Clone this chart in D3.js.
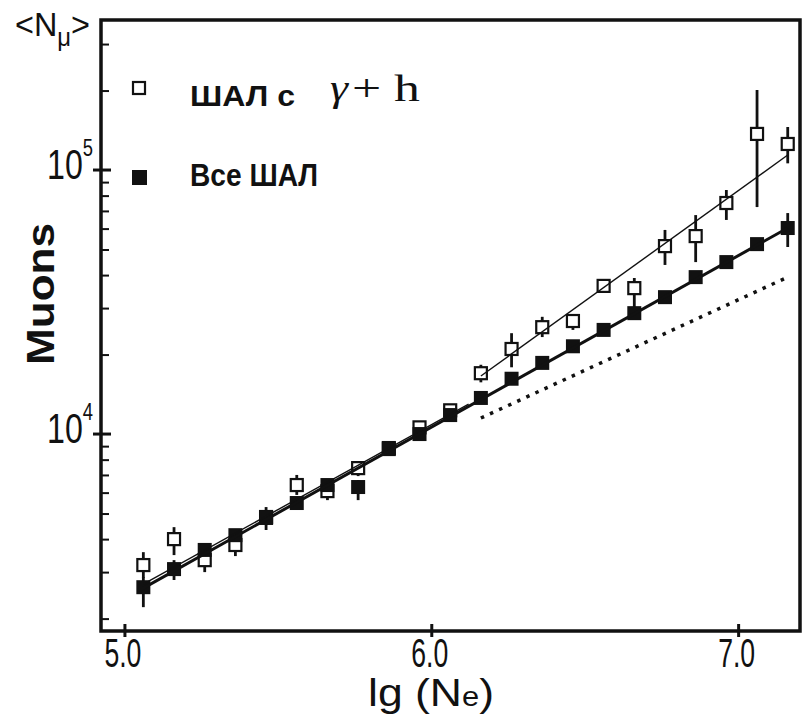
<!DOCTYPE html>
<html>
<head>
<meta charset="utf-8">
<script src="https://cdn.jsdelivr.net/npm/d3@7"></script>
<style>
  body { margin: 0; background: #fff; }
  svg { display: block; }
</style>
</head>
<body>
<svg id="chart" width="807" height="717"></svg>
<script>
// lg(Ne) bin centres
const lgNe = [5.06, 5.16, 5.26, 5.36, 5.46, 5.56, 5.66, 5.76, 5.86, 5.96, 6.06,
              6.16, 6.26, 6.36, 6.46, 6.56, 6.66, 6.76, 6.86, 6.96, 7.06, 7.16]

// all showers (filled squares): <Nmu> and error bar ends
const allMuons = [2630, 3080, 3640, 4140, 4810, 5480, 6410, 6300, 8770, 10000, 11800,
                  13700, 16200, 18600, 21500, 24800, 28700, 33000, 39300, 44800, 52400, 60300]
const allLo = [2210, 2800, 3450, 3950, 4330, 5250, 6150, 5620, 8450, 9650, 11400,
               13200, 15600, 17900, 20700, 23900, 27700, 31800, 37900, 43200, 50500, 51100]
const allHi = [2870, 3330, 3830, 4350, 5290, 5700, 6680, 6700, 9100, 10400, 12200,
               14200, 16800, 19300, 22300, 25700, 29800, 34200, 40800, 46400, 54300, 68700]

// showers with gamma + hadrons (open squares)
const ghMuons = [3190, 4000, 3330, 3800, 4850, 6410, 6080, 7430, 8850, 10600, 12300,
                 17000, 21000, 25400, 26800, 36400, 35700, 51500, 56200, 75000, 137000, 125500]
const ghLo = [2850, 3480, 3000, 3450, 4520, 5880, 5620, 6930, 8500, 10200, 11800,
              15700, 17900, 23300, 24800, 34500, 30000, 43700, 44800, 64700, 72400, 106000]
const ghHi = [3570, 4440, 3540, 4040, 5150, 7000, 6520, 7830, 9200, 11000, 12800,
              18300, 24100, 27800, 28200, 38300, 39000, 59300, 67500, 84000, 201000, 145500]

// fitted lines, end points [lgNe, Nmu]
const allFit = [[5.06, 2610], [7.16, 60300]]
const ghFitLow = [[5.06, 2700], [6.12, 12990]]
const ghFitHigh = [[6.16, 16590], [7.16, 114000]]
const dottedRef = [[6.16, 11500], [7.16, 39300]]

// axis ticks
const xTicks = [5.0, 6.0, 7.0]
const xTickLabels = ['5.0', '6.0', '7.0']
const yMajor = [1e4, 1e5]
const yMajorExp = ['4', '5']
const yMinor = [2000, 3000, 4000, 5000, 6000, 7000, 8000, 9000,
                20000, 30000, 40000, 50000, 60000, 70000, 80000, 90000,
                200000, 300000]

const sans = '"Liberation Sans", Arial, sans-serif'
const serif = '"Liberation Serif", "DejaVu Serif", serif'

const plotLeft = 101, plotTop = 20, plotRight = 800, plotBottom = 631

const svg = d3.select('#chart')

const x = d3.scaleLinear().domain([4.922, 7.2]).range([plotLeft, plotRight])
const y = d3.scaleLog().domain([1795, 370000]).range([plotBottom, plotTop])

// text helper, width forced with textLength (the original font is narrow)
const label = (g, px, py, str, size, len, opts = {}) => g.append('text')
    .attr('x', px).attr('y', py)
    .attr('font-size', size)
    .attr('font-family', opts.family || sans)
    .attr('font-weight', opts.weight || 'normal')
    .attr('font-style', opts.style || 'normal')
    .attr('text-anchor', opts.anchor || 'start')
    .attr('textLength', len)
    .attr('lengthAdjust', 'spacingAndGlyphs')
    .attr('fill', '#111')
    .text(str)

// same, but built from pieces [text, size, dy] so sub/superscripts stay in one text
const richLabel = (g, px, py, parts, len) => {
    const t = g.append('text')
        .attr('x', px).attr('y', py)
        .attr('font-family', sans)
        .attr('textLength', len)
        .attr('lengthAdjust', 'spacingAndGlyphs')
        .attr('fill', '#111')
    parts.forEach(p => t.append('tspan').attr('font-size', p[1]).attr('dy', p[2]).text(p[0]))
    return t
}

// minor ticks on the left axis, pointing inwards
svg.append('g')
    .attr('transform', `translate(${plotLeft},0)`)
    .call(d3.axisRight(y).tickValues(yMinor).tickSize(8).tickFormat(''))
    .call(g => g.select('.domain').remove())
    .selectAll('line').attr('stroke', '#111').attr('stroke-width', 2)

// major ticks cross the axis line
svg.append('g').selectAll('line')
    .data(yMajor).join('line')
    .attr('x1', plotLeft - 8).attr('x2', plotLeft + 10)
    .attr('y1', d => y(d)).attr('y2', d => y(d))
    .attr('stroke', '#111').attr('stroke-width', 3)

svg.append('g').selectAll('line')
    .data(xTicks).join('line')
    .attr('x1', d => x(d)).attr('x2', d => x(d))
    .attr('y1', plotBottom - 7).attr('y2', plotBottom + 6)
    .attr('stroke', '#111').attr('stroke-width', 3)

// frame
svg.append('rect')
    .attr('x', plotLeft).attr('y', plotTop)
    .attr('width', plotRight - plotLeft).attr('height', plotBottom - plotTop)
    .attr('fill', 'none').attr('stroke', '#111').attr('stroke-width', 3.5)

// tick labels
const labels = svg.append('g')
xTicks.forEach((t, i) => label(labels, x(t) - 2, 667, xTickLabels[i], 40, 37, { anchor: 'middle' }))
yMajor.forEach((t, i) => {
    richLabel(labels, 47, y(t) + 9, [['10', 42, 0], [yMajorExp[i], 24, -23]], 46)
})

// axis titles
richLabel(svg, 15, 36, [['<N', 34, 0], ['μ', 25, 10], ['>', 34, -10]], 75)

svg.append('g')
    .attr('transform', 'translate(54,294) rotate(-90)')
    .call(g => label(g, 0, 0, 'Muons', 38, 142, { anchor: 'middle', weight: 'bold' }))

richLabel(svg, 368, 706, [['lg (N', 39, 0], ['e', 27, 0], [')', 39, 0]], 126)

// error bars
const drawBars = (vals, lo, hi) => svg.append('g').selectAll('line')
    .data(vals).join('line')
    .attr('x1', (d, i) => x(lgNe[i])).attr('x2', (d, i) => x(lgNe[i]))
    .attr('y1', (d, i) => y(lo[i])).attr('y2', (d, i) => y(hi[i]))
    .attr('stroke', '#111').attr('stroke-width', 2.8)

// square markers
const drawSquares = (vals, size, filled) => svg.append('g').selectAll('rect')
    .data(vals).join('rect')
    .attr('x', (d, i) => x(lgNe[i]) - size / 2)
    .attr('y', d => y(d) - size / 2)
    .attr('width', size).attr('height', size)
    .attr('fill', filled ? '#111' : '#fff')
    .attr('stroke', '#111').attr('stroke-width', filled ? 0 : 2.2)

drawBars(ghMuons, ghLo, ghHi)
drawSquares(ghMuons, 12, false)
drawBars(allMuons, allLo, allHi)
drawSquares(allMuons, 14, true)

// fitted lines on top of the markers
const line = d3.line().x(d => x(d[0])).y(d => y(d[1]))
const path = (pts, w, dash) => svg.append('path')
    .attr('d', line(pts))
    .attr('fill', 'none').attr('stroke', '#111')
    .attr('stroke-width', w)
    .attr('stroke-dasharray', dash || null)

path(allFit, 3)
path(ghFitLow, 1.4)
path(ghFitHigh, 1.4)
path(dottedRef, 3.5, '3.5,6.5')

// legend
const legend = svg.append('g')
legend.append('rect').attr('x', 133).attr('y', 82).attr('width', 12).attr('height', 12)
    .attr('fill', '#fff').attr('stroke', '#111').attr('stroke-width', 2.2)
legend.append('rect').attr('x', 132).attr('y', 170).attr('width', 15).attr('height', 15)
    .attr('fill', '#111')
label(legend, 190, 106, 'ШАЛ с', 30, 105, { weight: 'bold' })
label(legend, 330, 101, 'γ', 38, 18, { family: serif, style: 'italic' })
label(legend, 352, 101, '+ h', 38, 68, { family: serif })
label(legend, 190, 186, 'Все ШАЛ', 31, 128, { weight: 'bold' })
</script>
</body>
</html>
